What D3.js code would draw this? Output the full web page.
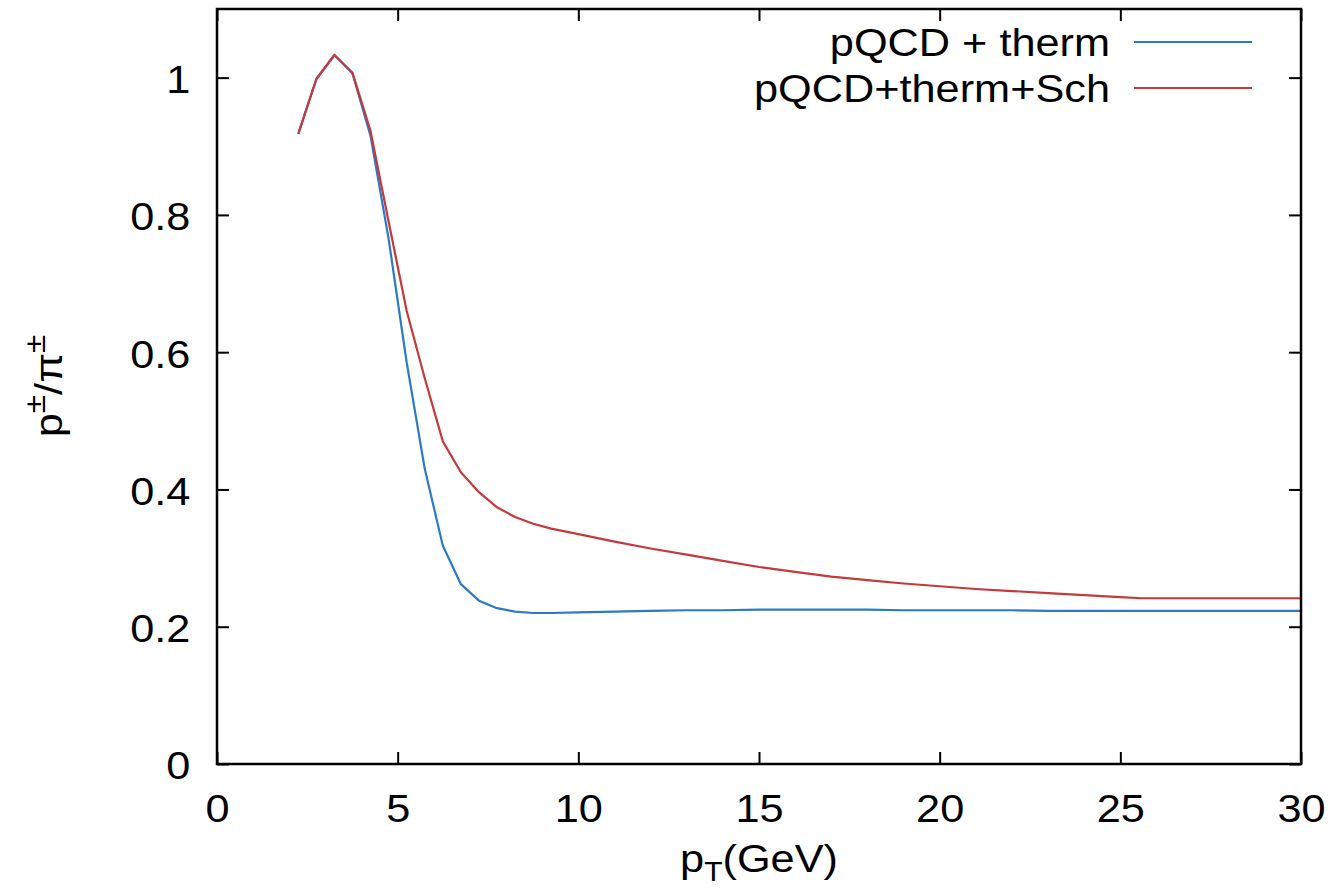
<!DOCTYPE html>
<html>
<head>
<meta charset="utf-8">
<script src="https://cdn.jsdelivr.net/npm/d3@7"></script>
<style>
    body { margin: 0; background: #fff; }
    text { font-family: "Liberation Sans", Arial, sans-serif; fill: #000; }
</style>
</head>
<body>
<svg id="chart" width="1333" height="893"></svg>
<script>
// pT grid (GeV)
var pT = [2.25, 2.75, 3.25, 3.75, 4.25, 4.75, 5.25, 5.75, 6.25, 6.75, 7.25, 7.75, 8.25, 8.75, 9.25,
    10, 11, 12, 13, 14, 15, 16, 17, 18, 19, 20, 21, 22, 23, 24, 25, 25.6, 27, 28, 29, 30];

// p/pi ratio, pQCD + therm
var ratioTherm = [0.918, 0.998, 1.033, 1.006, 0.915, 0.765, 0.585, 0.43, 0.318, 0.262, 0.238, 0.227, 0.222, 0.220, 0.220,
    0.221, 0.222, 0.223, 0.224, 0.224, 0.225, 0.225, 0.225, 0.225, 0.224, 0.224, 0.224, 0.224, 0.223, 0.223, 0.223, 0.223, 0.223, 0.223, 0.223, 0.223];

// p/pi ratio, pQCD + therm + Sch
var ratioSch = [0.918, 0.998, 1.033, 1.007, 0.922, 0.79, 0.66, 0.562, 0.47, 0.425, 0.396, 0.374, 0.36, 0.35, 0.343,
    0.335, 0.324, 0.314, 0.305, 0.296, 0.287, 0.280, 0.273, 0.268, 0.263, 0.259, 0.255, 0.252, 0.249, 0.246, 0.243, 0.2415, 0.2415, 0.2415, 0.2415, 0.2415];

var seriesNames = ["pQCD + therm", "pQCD+therm+Sch"];
var seriesColors = ["#2a7bc4", "#c5393d"];

var xTicks = [0, 5, 10, 15, 20, 25, 30];
var yTicks = [0, 0.2, 0.4, 0.6, 0.8, 1];

// layout
var plotLeft = 217, plotTop = 9, plotRight = 1301, plotBottom = 764;
var fs = 39, stretch = 1.11;

var svg = d3.select("#chart");

var x = d3.scaleLinear().domain([0, 30]).range([plotLeft, plotRight]);
var y = d3.scaleLinear().domain([0, 1.1]).range([plotBottom, plotTop]);

// ticks (inward, mirrored)
var xb = svg.append("g").attr("transform", "translate(0," + plotBottom + ")")
    .call(d3.axisBottom(x).tickValues(xTicks).tickSizeInner(-12).tickSizeOuter(0).tickPadding(30).tickFormat(String));
var xt = svg.append("g").attr("transform", "translate(0," + plotTop + ")")
    .call(d3.axisTop(x).tickValues(xTicks).tickSizeInner(-12).tickSizeOuter(0).tickFormat(""));
var yl = svg.append("g").attr("transform", "translate(" + plotLeft + ",0)")
    .call(d3.axisLeft(y).tickValues(yTicks).tickSizeInner(-12).tickSizeOuter(0).tickPadding(24).tickFormat(String));
var yr = svg.append("g").attr("transform", "translate(" + plotRight + ",0)")
    .call(d3.axisRight(y).tickValues(yTicks).tickSizeInner(-12).tickSizeOuter(0).tickFormat(""));

[xb, xt, yl, yr].forEach(function (g) {
    g.select(".domain").remove();
    g.selectAll("line").attr("stroke", "#000").attr("stroke-width", 2);
    g.selectAll("text")
        .attr("font-size", fs + "px")
        .attr("font-family", "Liberation Sans, Arial, sans-serif")
        .attr("transform", "scale(" + stretch + ",1)");
});
yl.selectAll("text").attr("dy", "0.38em");

// curves
var line = d3.line()
    .x(function (d) { return x(d[0]); })
    .y(function (d) { return y(d[1]); });

[ratioTherm, ratioSch].forEach(function (vals, i) {
    svg.append("path")
        .datum(pT.map(function (p, k) { return [p, vals[k]]; }))
        .attr("fill", "none")
        .attr("stroke", seriesColors[i])
        .attr("stroke-width", 2.2)
        .attr("stroke-linejoin", "round")
        .attr("d", line);
});

// frame
svg.append("rect")
    .attr("x", plotLeft).attr("y", plotTop)
    .attr("width", plotRight - plotLeft).attr("height", plotBottom - plotTop)
    .attr("fill", "none").attr("stroke", "#000").attr("stroke-width", 2.5);

// legend
seriesNames.forEach(function (name, i) {
    var ly = 42 + i * 46;
    svg.append("text")
        .attr("transform", "translate(1110," + (ly + 14) + ") scale(" + stretch + ",1)")
        .attr("text-anchor", "end")
        .attr("font-size", fs + "px")
        .text(name);
    svg.append("line")
        .attr("x1", 1134).attr("x2", 1252)
        .attr("y1", ly).attr("y2", ly)
        .attr("stroke", seriesColors[i]).attr("stroke-width", 2.2);
});

// x title
var xt1 = svg.append("text")
    .attr("transform", "translate(" + ((plotLeft + plotRight) / 2) + ",872) scale(" + stretch + ",1)")
    .attr("text-anchor", "middle")
    .attr("font-size", fs + "px");
xt1.append("tspan").text("p");
xt1.append("tspan").attr("dy", 9).attr("font-size", "27px").text("T");
xt1.append("tspan").attr("dy", -9).text("(GeV)");

// y title
var yt = svg.append("text")
    .attr("transform", "translate(62,386) rotate(-90) scale(" + stretch + ",1)")
    .attr("text-anchor", "middle")
    .attr("font-size", fs + "px");
yt.append("tspan").text("p");
yt.append("tspan").attr("dy", -17).attr("font-size", "30px").text("±");
yt.append("tspan").attr("dy", 17).text("/π");
yt.append("tspan").attr("dy", -17).attr("font-size", "30px").text("±");
</script>
</body>
</html>
